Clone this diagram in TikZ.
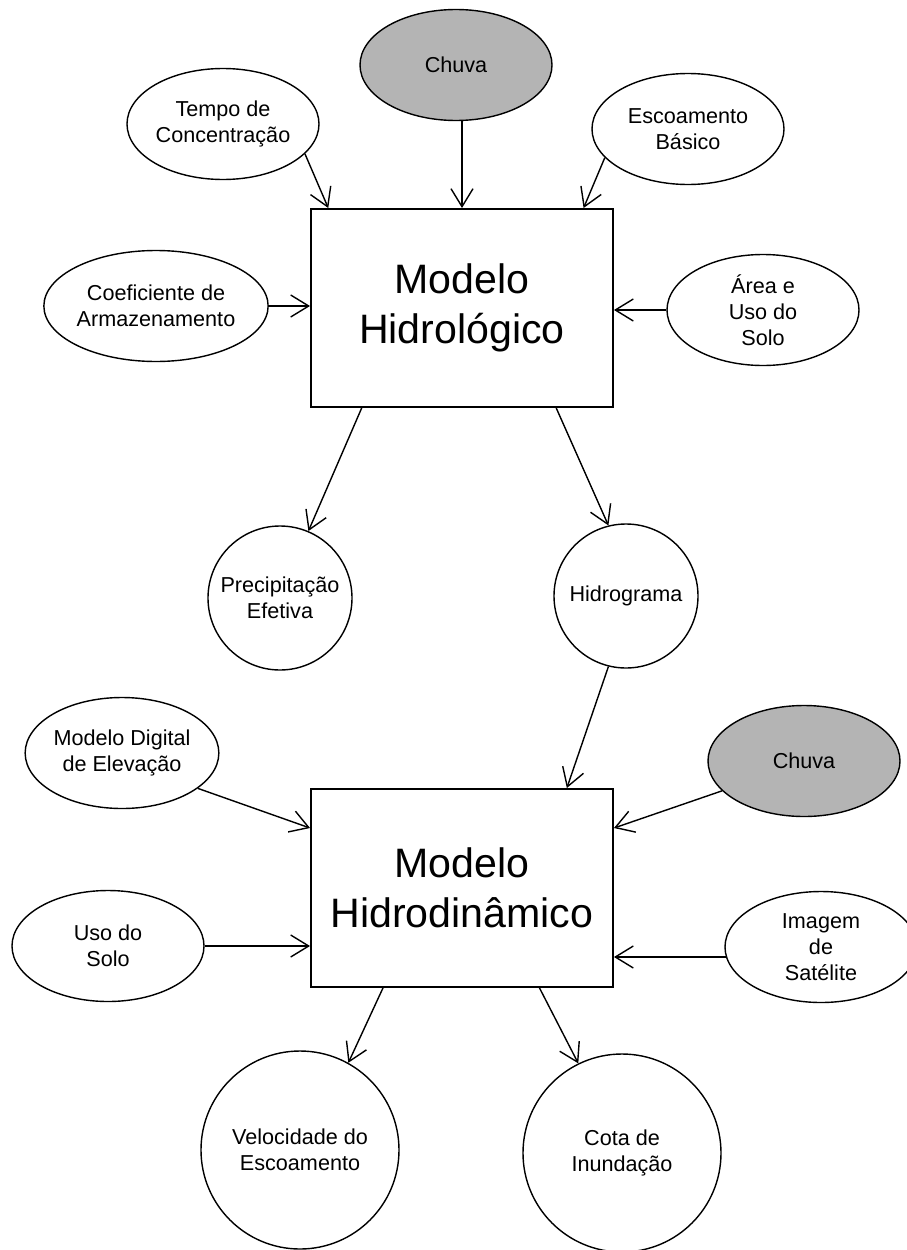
\documentclass[tikz,border=0pt]{standalone}
\usepackage{fontspec}
\setmainfont{Liberation Sans}
\usetikzlibrary{shapes.geometric,calc,arrows.meta}
\definecolor{chuvacinza}{RGB}{180,180,180}
\begin{document}
\begin{tikzpicture}[x=0.2mm, y=-0.2mm, line width=0.8pt,
	oval/.style = {draw, ellipse, minimum width=38.4mm, minimum height=22.2mm, inner sep=0pt, align=center, font=\fontsize{12.3}{14.8}\selectfont},
	bola/.style = {draw, circle, inner sep=0pt, align=center, font=\fontsize{12.3}{14.8}\selectfont},
	modelo/.style = {draw, rectangle, line width=1.1pt, minimum width=60.4mm, minimum height=39.6mm, align=center, font=\fontsize{23.4}{28.3}\selectfont},
	seta/.style = {-{Straight Barb[length=3.6mm, width=4.4mm]}}]
	\useasboundingbox[fill=white] (0,0) rectangle (906,1250);
	% modelo hidrologico e entradas
	\node[modelo] (H) at (462,308) {Modelo\\Hidrológico};
	\node[oval, fill=chuvacinza] (C1) at (456,65) {Chuva};
	\node[oval] (T) at (223,124) {Tempo de\\Concentração};
	\node[oval] (E) at (688,129) {Escoamento\\Básico};
	\node[oval] (K) at (156,306) {Coeficiente de\\Armazenamento};
	\node[oval] (A) at (763,310) {Área e\\Uso do\\Solo};
	\node[bola, minimum size=28.8mm] (P) at (280,598) {Precipitação\\Efetiva};
	\node[bola, minimum size=28.8mm] (G) at (626,596) {Hidrograma};
	% modelo hidrodinamico e entradas
	\node[modelo] (D) at (462,888) {Modelo\\Hidrodinâmico};
	\node[oval] (M) at (122,753) {Modelo Digital\\de Elevação};
	\node[oval, fill=chuvacinza] (C2) at (804,761) {Chuva};
	\node[oval] (U) at (108,946) {Uso do\\Solo};
	\node[oval] (I) at (821,947) {Imagem\\de\\Satélite};
	\node[bola, minimum size=39.6mm] (V) at (300,1150) {Velocidade do\\Escoamento};
	\node[bola, minimum size=39.6mm] (Q) at (622,1153) {Cota de\\Inundação};
	\draw[seta] (T.-20) -- ($(H.north west)!0.06!(H.north east)$);
	\draw[seta] (C1.south -| H.north) -- (H.north);
	\draw[seta] (E.199) -- ($(H.north west)!0.9!(H.north east)$);
	\draw[seta] (K.east) -- (K.east -| H.west);
	\draw[seta] (A.west) -- (A.west -| H.east);
	\draw[seta] ($(H.south west)!0.17!(H.south east)$) -- (P.67);
	\draw[seta] ($(H.south west)!0.81!(H.south east)$) -- (G.104);
	\draw[seta] (G.256) -- ($(D.north west)!0.845!(D.north east)$);
	\draw[seta] (M.-25) -- ($(D.north west)!0.2!(D.south west)$);
	\draw[seta] (C2.200) -- ($(D.north east)!0.2!(D.south east)$);
	\draw[seta] (U.east) -- (U.east -| D.west);
	\draw[seta] (I.186) -- (I.186 -| D.east);
	\draw[seta] ($(D.south west)!0.24!(D.south east)$) -- (V.61);
	\draw[seta] ($(D.south west)!0.755!(D.south east)$) -- (Q.116);
\end{tikzpicture}
\end{document}
